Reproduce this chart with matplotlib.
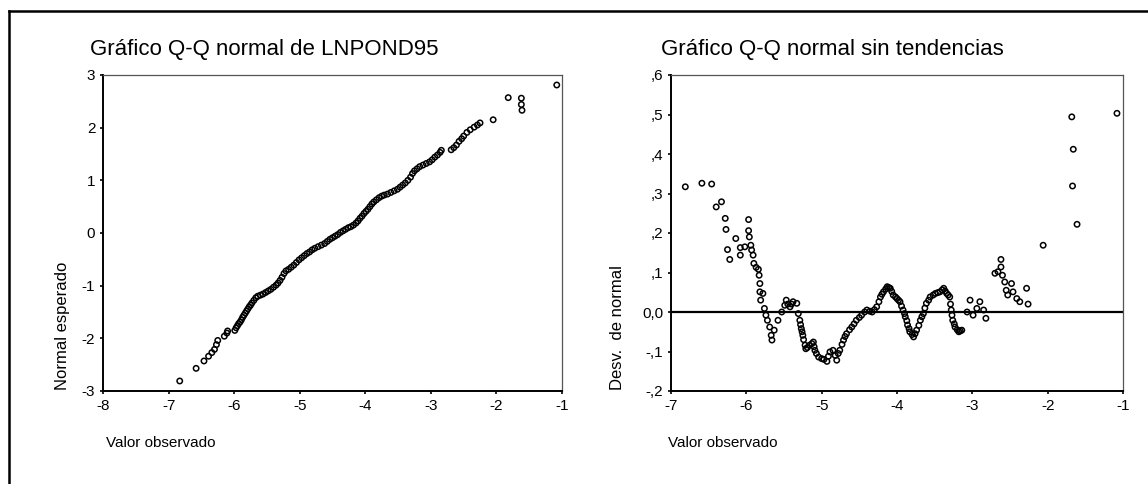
import matplotlib
matplotlib.use("Agg")
import matplotlib.pyplot as plt
from matplotlib.lines import Line2D

plt.rcParams['font.family'] = ['Liberation Sans', 'DejaVu Sans']

# ---- Left panel: normal Q-Q plot (observed value vs expected normal) ----
qq_x = [-6.83, -6.58, -6.46, -6.39, -6.34, -6.30, -6.27, -6.25, -6.15, -6.11, -6.10, -5.99,
        -5.97, -5.95, -5.93, -5.91, -5.89, -5.87, -5.85, -5.83, -5.81, -5.79, -5.77, -5.75,
        -5.73, -5.70, -5.67, -5.64, -5.60, -5.56, -5.52, -5.48, -5.44, -5.40, -5.36, -5.33,
        -5.30, -5.27, -5.24, -5.21, -5.17, -5.13, -5.09, -5.05, -5.01, -4.97, -4.93, -4.89,
        -4.85, -4.81, -4.77, -4.72, -4.67, -4.62, -4.58, -4.54, -4.50, -4.46, -4.42, -4.38,
        -4.34, -4.30, -4.26, -4.22, -4.18, -4.14, -4.11, -4.08, -4.05, -4.02, -3.99, -3.96,
        -3.93, -3.90, -3.87, -3.83, -3.79, -3.75, -3.71, -3.66, -3.61, -3.56, -3.51, -3.47,
        -3.43, -3.39, -3.35, -3.31, -3.28, -3.25, -3.21, -3.17, -3.12, -3.07, -3.02, -2.98,
        -2.94, -2.90, -2.86, -2.84,
        -2.69, -2.65, -2.61, -2.57, -2.53, -2.50, -2.45, -2.40, -2.34, -2.29, -2.25, -2.05,
        -1.82, -1.62, -1.62, -1.61, -1.08]
qq_y = [-2.81, -2.57, -2.43, -2.34, -2.27, -2.21, -2.12, -2.04, -1.96, -1.90, -1.86, -1.85,
        -1.80, -1.76, -1.72, -1.69, -1.65, -1.60, -1.56, -1.52, -1.48, -1.44, -1.40, -1.37,
        -1.33, -1.28, -1.23, -1.20, -1.18, -1.16, -1.13, -1.10, -1.07, -1.03, -0.99, -0.95,
        -0.90, -0.84, -0.77, -0.72, -0.69, -0.65, -0.61, -0.56, -0.51, -0.47, -0.43, -0.39,
        -0.36, -0.32, -0.29, -0.26, -0.23, -0.20, -0.16, -0.12, -0.09, -0.06, -0.03, 0.01,
        0.04, 0.07, 0.10, 0.12, 0.15, 0.19, 0.23, 0.28, 0.32, 0.37, 0.41, 0.45,
        0.50, 0.55, 0.59, 0.63, 0.67, 0.70, 0.72, 0.74, 0.77, 0.80, 0.83, 0.87,
        0.91, 0.95, 1.00, 1.06, 1.13, 1.18, 1.22, 1.26, 1.29, 1.32, 1.35, 1.39,
        1.44, 1.48, 1.53, 1.57,
        1.58, 1.62, 1.67, 1.74, 1.79, 1.84, 1.91, 1.96, 2.01, 2.05, 2.09, 2.15,
        2.57, 2.56, 2.44, 2.33, 2.81]

# ---- Right panel: detrended normal Q-Q plot (observed value vs deviation) ----
dt_x = [-6.81, -6.59, -6.46, -6.40, -6.33, -6.28, -6.27, -6.25, -6.22, -6.14, -6.08, -6.08,
        -6.02, -5.97, -5.97, -5.96, -5.94, -5.93, -5.91, -5.90, -5.87, -5.84, -5.83, -5.82,
        -5.82, -5.81, -5.78, -5.76, -5.74, -5.72, -5.69, -5.67, -5.66, -5.63, -5.58, -5.53,
        -5.49, -5.47, -5.45, -5.42, -5.40, -5.38, -5.33, -5.31, -5.29, -5.28, -5.27, -5.26,
        -5.25, -5.24, -5.22, -5.21, -5.19, -5.16, -5.13, -5.11, -5.10, -5.09, -5.07, -5.04,
        -5.00, -4.97, -4.93, -4.91, -4.89, -4.85, -4.82, -4.80, -4.78, -4.76, -4.73, -4.71,
        -4.69, -4.67, -4.63, -4.60, -4.57, -4.54, -4.50, -4.47, -4.43, -4.40, -4.36, -4.33,
        -4.30, -4.27, -4.24, -4.22, -4.20, -4.18, -4.15, -4.13, -4.11, -4.09, -4.07, -4.05,
        -4.02, -4.00, -3.98, -3.96, -3.94, -3.92, -3.90, -3.89, -3.87, -3.86, -3.84, -3.83,
        -3.80, -3.78, -3.76, -3.74, -3.71, -3.69, -3.67, -3.65, -3.63, -3.61, -3.58, -3.56,
        -3.52, -3.49, -3.46, -3.43, -3.40, -3.38, -3.36, -3.34, -3.32, -3.30, -3.29, -3.28,
        -3.27, -3.26, -3.24, -3.23, -3.20, -3.18, -3.16, -3.14, -3.07, -3.03, -2.99, -2.94,
        -2.90, -2.85, -2.82,
        -2.70, -2.66, -2.62, -2.62, -2.60, -2.57, -2.55, -2.53, -2.48, -2.46, -2.41, -2.37,
        -2.28, -2.26, -2.06, -1.68, -1.66, -1.67, -1.61, -1.08]
dt_y = [0.317, 0.326, 0.324, 0.266, 0.279, 0.237, 0.209, 0.158, 0.133, 0.186, 0.163, 0.144,
        0.165, 0.234, 0.206, 0.190, 0.169, 0.157, 0.144, 0.123, 0.113, 0.108, 0.093, 0.072,
        0.051, 0.030, 0.047, 0.009, -0.008, -0.021, -0.038, -0.059, -0.071, -0.046, -0.021, 0.000,
        0.017, 0.030, 0.020, 0.013, 0.020, 0.026, 0.022, -0.004, -0.021, -0.032, -0.042, -0.050,
        -0.059, -0.070, -0.084, -0.093, -0.090, -0.084, -0.080, -0.076, -0.088, -0.097, -0.105, -0.114,
        -0.118, -0.120, -0.125, -0.112, -0.101, -0.097, -0.110, -0.122, -0.105, -0.097, -0.082, -0.071,
        -0.062, -0.055, -0.045, -0.038, -0.030, -0.021, -0.014, -0.008, 0.000, 0.005, 0.002, 0.000,
        0.006, 0.013, 0.026, 0.038, 0.045, 0.051, 0.058, 0.064, 0.062, 0.060, 0.052, 0.043,
        0.038, 0.034, 0.030, 0.026, 0.015, 0.005, -0.004, -0.012, -0.022, -0.033, -0.042, -0.050,
        -0.057, -0.063, -0.055, -0.046, -0.034, -0.021, -0.012, -0.004, 0.010, 0.022, 0.030, 0.038,
        0.043, 0.047, 0.049, 0.051, 0.056, 0.060, 0.053, 0.047, 0.043, 0.038, 0.020, 0.005,
        -0.008, -0.021, -0.030, -0.038, -0.045, -0.050, -0.048, -0.046, 0.000, 0.030, -0.008, 0.009,
        0.026, 0.005, -0.016,
        0.098, 0.102, 0.133, 0.114, 0.093, 0.076, 0.055, 0.043, 0.072, 0.051, 0.034, 0.026,
        0.060, 0.020, 0.169, 0.494, 0.412, 0.319, 0.222, 0.503]

left_xticks = [-8, -7, -6, -5, -4, -3, -2, -1]
left_yticks = [-3, -2, -1, 0, 1, 2, 3]
right_xticks = [-7, -6, -5, -4, -3, -2, -1]
right_yticks = [-0.2, -0.1, 0.0, 0.1, 0.2, 0.3, 0.4, 0.5, 0.6]
right_yticklabels = ["-,2", "-,1", "0,0", ",1", ",2", ",3", ",4", ",5", ",6"]

W, H = 1148, 484
fig = plt.figure(figsize=(W / 100, H / 100), dpi=100)
fig.patch.set_facecolor("white")


def px_rect(x0, y0, x1, y1):
    return [x0 / W, 1 - y1 / H, (x1 - x0) / W, (y1 - y0) / H]


axL = fig.add_axes(px_rect(103, 75, 562, 391))
axR = fig.add_axes(px_rect(671, 75, 1123, 391))

mk = dict(marker="o", s=15, facecolors="none", edgecolors="black", linewidths=1.1, zorder=3)
axL.scatter(qq_x, qq_y, **mk)
axR.scatter(dt_x, dt_y, **mk)
axR.axhline(0, color="black", lw=1.6, zorder=2)

axL.set_xlim(-8, -1)
axL.set_ylim(-3, 3)
axL.set_xticks(left_xticks)
axL.set_yticks(left_yticks)
axL.set_xticklabels([str(v) for v in left_xticks])
axL.set_yticklabels([str(v) for v in left_yticks])

axR.set_xlim(-7, -1)
axR.set_ylim(-0.2, 0.6)
axR.set_xticks(right_xticks)
axR.set_yticks(right_yticks)
axR.set_xticklabels([str(v) for v in right_xticks])
axR.set_yticklabels(right_yticklabels)

for ax in (axL, axR):
    ax.tick_params(direction="out", length=2.5, width=1.2, labelsize=11, pad=3,
                   colors="black")
    for sp in ax.spines.values():
        sp.set_color("black")
        sp.set_linewidth(0.9)
    ax.spines["left"].set_linewidth(1.4)
    ax.spines["bottom"].set_linewidth(1.4)
    ax.spines["right"].set_color("#555555")
    ax.spines["top"].set_color("#555555")

# titles
fig.text(90 / W, 1 - 50 / H, "Gráfico Q-Q normal de LNPOND95", fontsize=16,
         ha="left", va="center")
fig.text(661 / W, 1 - 50 / H, "Gráfico Q-Q normal sin tendencias", fontsize=16,
         ha="left", va="center")

# axis labels (SPSS style placement)
fig.text(106 / W, 1 - 443 / H, "Valor observado", fontsize=11, ha="left", va="center")
fig.text(668 / W, 1 - 443 / H, "Valor observado", fontsize=11, ha="left", va="center")
fig.text(63 / W, 1 - 390 / H, "Normal esperado", fontsize=12, rotation=90,
         ha="center", va="bottom")
fig.text(618 / W, 1 - 390 / H, "Desv.  de normal", fontsize=12, rotation=90,
         ha="center", va="bottom")

# outer frame lines (top and left)
fig.add_artist(Line2D([9 / W, 1.0], [1 - 11 / H, 1 - 11 / H], color="black", lw=1.8,
                      transform=fig.transFigure))
fig.add_artist(Line2D([9 / W, 9 / W], [1 - 11 / H, 0.0], color="black", lw=1.8,
                      transform=fig.transFigure))

fig.savefig("out.png", dpi=100)
